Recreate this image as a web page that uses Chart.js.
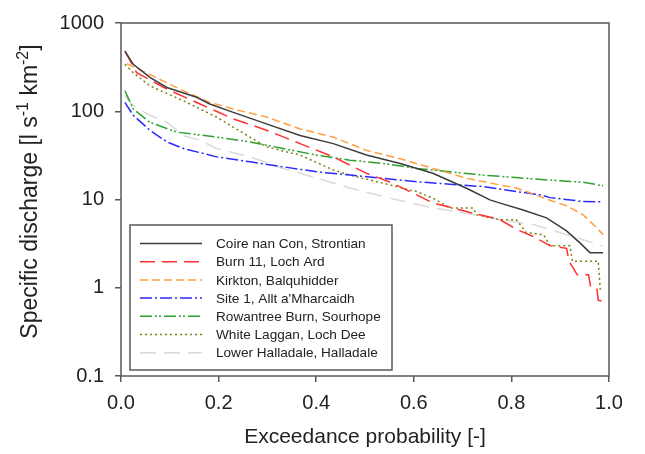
<!DOCTYPE html>
<html>
<head>
<meta charset="utf-8">
<script src="https://cdn.jsdelivr.net/npm/chart.js@4.4.1/dist/chart.umd.min.js"></script>
<style>
  html, body { margin: 0; padding: 0; background: #fff; }
  canvas { display: block; }
</style>
</head>
<body>
<canvas id="fdc" width="645" height="454"></canvas>
<script>
// flow duration curves: exceedance probability (P) vs specific discharge (Q, l s-1 km-2)
const coireP = [0.008, 0.025, 0.06, 0.094, 0.155, 0.182, 0.23, 0.298, 0.367, 0.435, 0.503, 0.572, 0.639, 0.708, 0.756, 0.777, 0.824, 0.872, 0.913, 0.941, 0.961, 0.988]
const coireQ = [480, 340, 240, 186, 144, 121, 97, 72, 53, 43, 32, 25.6, 19.8, 13.4, 9.9, 9.1, 7.6, 6.2, 4.4, 3.2, 2.5, 2.5]

const burnP = [0.008, 0.032, 0.094, 0.162, 0.23, 0.298, 0.367, 0.435, 0.503, 0.551, 0.592, 0.64, 0.708, 0.777, 0.81, 0.845, 0.879, 0.913, 0.918, 0.935, 0.958, 0.962, 0.975, 0.978, 0.988]
const burnQ = [480, 274, 178, 121, 82, 61, 43, 30.4, 19.8, 15.8, 12.3, 9.1, 7.3, 5.9, 4.6, 3.8, 3.0, 2.8, 2.0, 1.4, 1.4, 1.05, 1.0, 0.72, 0.7]

const kirktonP = [0.012, 0.059, 0.127, 0.182, 0.23, 0.298, 0.367, 0.435, 0.503, 0.572, 0.64, 0.708, 0.777, 0.81, 0.845, 0.879, 0.913, 0.947, 0.968, 0.988]
const kirktonQ = [345, 262, 171, 126, 106, 86, 63, 51, 36, 29, 22.5, 17.4, 14.6, 13.5, 11.5, 9.8, 8.5, 6.7, 5.2, 4.0]

const site1P = [0.008, 0.025, 0.059, 0.094, 0.127, 0.196, 0.264, 0.332, 0.401, 0.469, 0.537, 0.606, 0.674, 0.742, 0.81, 0.859, 0.879, 0.947, 0.988]
const site1Q = [126, 90, 61, 45, 38, 30.4, 26.7, 23.5, 20.6, 18.9, 17.4, 15.9, 14.9, 14, 12.3, 11.3, 10.5, 9.5, 9.4]

const rowantreeP = [0.008, 0.025, 0.059, 0.114, 0.196, 0.264, 0.332, 0.401, 0.469, 0.537, 0.606, 0.674, 0.742, 0.81, 0.879, 0.947, 0.988]
const rowantreeQ = [171, 106, 75, 58, 51, 45, 37.8, 31.8, 27.9, 25.6, 22.5, 20.6, 18.9, 17.7, 16.6, 15.7, 14.3]

const lagganP = [0.008, 0.025, 0.059, 0.127, 0.162, 0.196, 0.23, 0.264, 0.298, 0.367, 0.435, 0.469, 0.537, 0.606, 0.64, 0.674, 0.722, 0.729, 0.777, 0.81, 0.831, 0.866, 0.879, 0.92, 0.925, 0.978, 0.982, 0.988]
const lagganQ = [340, 274, 194, 132, 106, 86, 66, 51, 39.5, 31.8, 21.6, 18.9, 15.3, 12.3, 10.3, 8, 8, 6.7, 5.9, 5.9, 4.2, 4.0, 3.0, 3.0, 2.0, 2.0, 0.97, 1.0]

const halladaleP = [0.008, 0.025, 0.059, 0.094, 0.127, 0.162, 0.196, 0.264, 0.332, 0.401, 0.469, 0.537, 0.64, 0.708, 0.777, 0.845, 0.913, 0.947, 0.988]
const halladaleQ = [150, 116, 90, 75, 53, 47, 37.8, 30.4, 22.5, 17.5, 13.5, 10.8, 8, 7, 5.9, 5.2, 4.0, 3.5, 2.96]

const stationNames = [
  'Coire nan Con, Strontian',
  'Burn 11, Loch Ard',
  'Kirkton, Balquhidder',
  "Site 1, Allt a'Mharcaidh",
  'Rowantree Burn, Sourhope',
  'White Laggan, Loch Dee',
  'Lower Halladale, Halladale',
]

const xTicks = [0, 0.2, 0.4, 0.6, 0.8, 1.0]
const yTicks = [0.1, 1, 10, 100, 1000]
const yTickLabels = ['0.1', '1', '10', '100', '1000']

const FONT = "'Liberation Sans', Arial, sans-serif"
const INK = '#222'
const FRAME = '#585858'

const pts = (P, Q) => P.map((p, i) => ({ x: p, y: Q[i] }))

const line = (label, data, color, dash) => ({
  label,
  data,
  borderColor: color,
  borderDash: dash,
  borderWidth: 1.5,
  borderCapStyle: 'butt',
  pointRadius: 0,
  tension: 0,
  fill: false,
})

const datasets = [
  line(stationNames[0], pts(coireP, coireQ), '#3c3c3c', []),
  line(stationNames[1], pts(burnP, burnQ), '#ff3030', [15, 7]),
  line(stationNames[2], pts(kirktonP, kirktonQ), '#ffa040', [8, 4]),
  line(stationNames[3], pts(site1P, site1Q), '#2a2aff', [12, 3, 2, 3]),
  line(stationNames[4], pts(rowantreeP, rowantreeQ), '#2ea02e', [12, 3, 2, 2, 2, 3]),
  line(stationNames[5], pts(lagganP, lagganQ), '#7f7f10', [2, 3]),
  line(stationNames[6], pts(halladaleP, halladaleQ), '#dadada', [16, 8]),
]

// box round the plot area
const frame = {
  id: 'frame',
  afterDatasetsDraw(chart) {
    const { ctx, chartArea: a } = chart
    ctx.save()
    ctx.strokeStyle = FRAME
    ctx.lineWidth = 1.5
    ctx.strokeRect(a.left, a.top, a.right - a.left, a.bottom - a.top)
    ctx.restore()
  },
}

// legend sitting inside the plot, bottom left
const insetLegend = {
  id: 'insetLegend',
  afterDraw(chart) {
    const { ctx, chartArea: a } = chart
    const sets = chart.data.datasets
    const left = a.left + 9
    const bottom = a.bottom - 6
    const width = 262
    const rowH = 18.2
    const height = 145
    const top = bottom - height
    ctx.save()
    ctx.fillStyle = '#fff'
    ctx.fillRect(left, top, width, height)
    ctx.strokeStyle = FRAME
    ctx.lineWidth = 1.5
    ctx.strokeRect(left, top, width, height)
    ctx.font = '13.6px ' + FONT
    ctx.textBaseline = 'middle'
    sets.forEach((ds, i) => {
      const y = top + 18.5 + i * rowH
      ctx.strokeStyle = ds.borderColor
      ctx.lineWidth = 1.5
      ctx.setLineDash(ds.borderDash)
      ctx.beginPath()
      ctx.moveTo(left + 10, y)
      ctx.lineTo(left + 72, y)
      ctx.stroke()
      ctx.setLineDash([])
      ctx.fillStyle = INK
      ctx.fillText(ds.label, left + 86, y + 1)
    })
    ctx.restore()
  },
}

// y title with superscripts
const yTitle = {
  id: 'yTitle',
  afterDraw(chart) {
    const { ctx, chartArea: a } = chart
    const parts = [
      ['Specific discharge [l s', false],
      ['-1', true],
      [' km', false],
      ['-2', true],
      [']', false],
    ]
    const big = '23px ' + FONT
    const small = '16px ' + FONT
    ctx.save()
    let total = 0
    parts.forEach(([t, sup]) => {
      ctx.font = sup ? small : big
      total += ctx.measureText(t).width
    })
    ctx.translate(37, (a.top + a.bottom) / 2 - 8)
    ctx.rotate(-Math.PI / 2)
    ctx.fillStyle = INK
    ctx.textBaseline = 'alphabetic'
    let x = -total / 2
    parts.forEach(([t, sup]) => {
      ctx.font = sup ? small : big
      ctx.fillText(t, x, sup ? -9 : 0)
      x += ctx.measureText(t).width
    })
    ctx.restore()
  },
}

new Chart(document.getElementById('fdc'), {
  type: 'line',
  data: { datasets },
  plugins: [frame, insetLegend, yTitle],
  options: {
    responsive: false,
    animation: false,
    devicePixelRatio: 1,
    layout: { padding: { top: 20, right: 36, left: 0, bottom: 0 } },
    plugins: {
      legend: { display: false },
      tooltip: { enabled: false },
    },
    scales: {
      x: {
        type: 'linear',
        min: 0,
        max: 1,
        afterBuildTicks: (s) => { s.ticks = xTicks.map((v) => ({ value: v })) },
        afterFit: (s) => { s.height = 78 },
        border: { display: false },
        grid: { drawOnChartArea: false, drawTicks: true, tickLength: 6, color: FRAME, lineWidth: 1.5 },
        ticks: {
          padding: 9,
          color: INK,
          font: { family: FONT, size: 20 },
          maxRotation: 0,
          callback: (v) => v.toFixed(1),
        },
        title: {
          display: true,
          text: 'Exceedance probability [-]',
          color: INK,
          font: { family: FONT, size: 21 },
          padding: { top: 0, bottom: 4 },
        },
      },
      y: {
        type: 'logarithmic',
        min: 0.1,
        max: 1000,
        afterBuildTicks: (s) => { s.ticks = yTicks.map((v) => ({ value: v, major: true })) },
        afterFit: (s) => { s.width = 121 },
        border: { display: false },
        grid: { drawOnChartArea: false, drawTicks: true, tickLength: 6, color: FRAME, lineWidth: 1.5 },
        ticks: {
          padding: 11,
          color: INK,
          font: { family: FONT, size: 20 },
          callback: (v, i) => yTickLabels[i],
        },
      },
    },
  },
})
</script>
</body>
</html>
